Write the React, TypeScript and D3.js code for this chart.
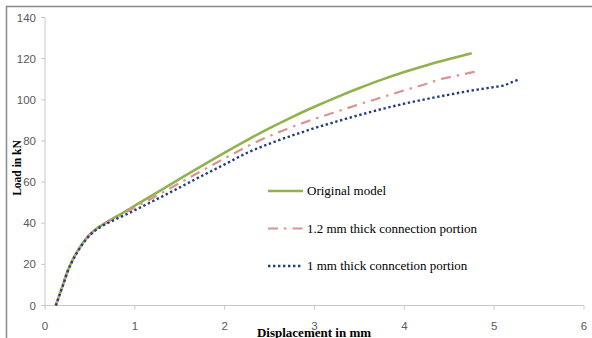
import React from "react";
import * as d3 from "d3";

const xTicks = [0, 1, 2, 3, 4, 5, 6];
const yTicks = [0, 20, 40, 60, 80, 100, 120, 140];

const originalX = [0.12, 0.16, 0.2, 0.25, 0.3, 0.35, 0.4, 0.45, 0.5, 0.55, 0.6, 0.65, 0.7, 0.8, 0.9, 1.0, 1.25, 1.5, 1.75, 2.0, 2.25, 2.5, 2.75, 3.0, 3.25, 3.5, 3.75, 4.0, 4.25, 4.5, 4.75];
const originalY = [0, 5, 10, 16.5, 21.5, 25.5, 29, 32, 34.6, 36.6, 38.2, 39.6, 40.9, 43.4, 45.9, 48.5, 55, 61.5, 68, 74.3, 80.4, 86.2, 91.6, 96.6, 101.3, 105.7, 109.8, 113.5, 116.8, 119.8, 122.6];

const thick12X = [0.12, 0.16, 0.2, 0.25, 0.3, 0.35, 0.4, 0.45, 0.5, 0.55, 0.6, 0.65, 0.7, 0.8, 0.9, 1.0, 1.25, 1.5, 1.75, 2.0, 2.25, 2.5, 2.75, 3.0, 3.25, 3.5, 3.75, 4.0, 4.25, 4.4, 4.6, 4.8];
const thick12Y = [0, 5.2, 10.3, 16.8, 21.8, 25.7, 29.2, 32.1, 34.6, 36.5, 38.1, 39.4, 40.6, 43, 45.3, 47.6, 53.5, 59.6, 65.6, 71.5, 77.3, 82.4, 86.8, 90.7, 94.3, 97.8, 101.2, 104.6, 107.8, 110.0, 111.9, 113.8];

const thick10X = [0.12, 0.16, 0.2, 0.25, 0.3, 0.35, 0.4, 0.45, 0.5, 0.55, 0.6, 0.65, 0.7, 0.8, 0.9, 1.0, 1.25, 1.5, 1.75, 2.0, 2.25, 2.5, 2.75, 3.0, 3.25, 3.5, 3.75, 4.0, 4.25, 4.5, 4.75, 5.0, 5.1, 5.2, 5.27];
const thick10Y = [0, 4.9, 9.8, 16.2, 21.2, 25.2, 28.7, 31.7, 34.2, 36.1, 37.7, 39, 40.1, 42.2, 44.2, 46.3, 51.8, 57.4, 63.1, 68.6, 74.2, 78.7, 82.6, 86.2, 89.5, 92.6, 95.5, 98.1, 100.4, 102.5, 104.5, 106.2, 106.9, 108.6, 109.8];

const seriesNames = ["Original model", "1.2 mm thick connection portion", "1 mm thick conncetion portion"];

type Pt = [number, number];
const zip = (xs: number[], ys: number[]): Pt[] => xs.map((x, i) => [x, ys[i]]);

const series = [
  { name: seriesNames[0], data: zip(originalX, originalY), color: "#8fb34c", width: 2.6, dash: "" },
  { name: seriesNames[1], data: zip(thick12X, thick12Y), color: "#da9391", width: 2.2, dash: "10,6,2.5,6" },
  { name: seriesNames[2], data: zip(thick10X, thick10Y), color: "#21407f", width: 2.4, dash: "2.4,2.6" },
];

export default function App() {
  const W = 592;
  const H = 338;
  const x = d3.scaleLinear().domain([0, 6]).range([45, 584]);
  const y = d3.scaleLinear().domain([0, 140]).range([305.5, 17.5]);
  const line = d3
    .line<Pt>()
    .x((d) => x(d[0]))
    .y((d) => y(d[1]))
    .curve(d3.curveMonotoneX);

  const axisColor = "#c8c8c8";
  const tickText = "#595959";
  const legendY = [191, 228.5, 266];

  return (
    <svg
      width={W}
      height={H}
      style={{ position: "absolute", left: 0, top: 0, background: "#fff" }}
    >
      <rect x={0} y={0} width={W} height={H} fill="#fff" />
      {/* outer frame */}
      <path d={`M6.5,${H + 5} V6.5 H${W + 5}`} fill="none" stroke="#8a8a8a" strokeWidth={1.5} />

      {/* y axis */}
      <line x1={45} x2={45} y1={y(140)} y2={y(0)} stroke={axisColor} strokeWidth={1} />
      {yTicks.map((t) => (
        <g key={"y" + t}>
          <line x1={41} x2={45} y1={y(t)} y2={y(t)} stroke={axisColor} strokeWidth={1} />
          <text
            x={36}
            y={y(t)}
            dy="0.35em"
            textAnchor="end"
            fontFamily="Liberation Sans, Arial, sans-serif"
            fontSize={11.5}
            fill={tickText}
          >
            {t}
          </text>
        </g>
      ))}

      {/* x axis */}
      <line x1={x(0)} x2={x(6)} y1={y(0)} y2={y(0)} stroke={axisColor} strokeWidth={1} />
      {xTicks.map((t) => (
        <g key={"x" + t}>
          <line x1={x(t)} x2={x(t)} y1={y(0)} y2={y(0) + 4} stroke={axisColor} strokeWidth={1} />
          <text
            x={x(t)}
            y={325.5}
            dy="0.35em"
            textAnchor="middle"
            fontFamily="Liberation Sans, Arial, sans-serif"
            fontSize={11.5}
            fill={tickText}
          >
            {t}
          </text>
        </g>
      ))}

      {/* series */}
      {series.map((s) => (
        <path
          key={s.name}
          d={line(s.data) || ""}
          fill="none"
          stroke={s.color}
          strokeWidth={s.width}
          strokeDasharray={s.dash || undefined}
          strokeLinejoin="round"
        />
      ))}

      {/* legend */}
      {series.map((s, i) => (
        <g key={"lg" + i}>
          <line
            x1={268}
            x2={303}
            y1={legendY[i]}
            y2={legendY[i]}
            stroke={s.color}
            strokeWidth={s.width}
            strokeDasharray={s.dash || undefined}
          />
          <text
            x={307}
            y={legendY[i]}
            dy="0.33em"
            fontFamily="Liberation Serif, Times New Roman, serif"
            fontSize={13}
            fill="#000"
          >
            {s.name}
          </text>
        </g>
      ))}

      {/* axis titles */}
      <text
        transform={`translate(20.5,168) rotate(-90)`}
        textAnchor="middle"
        fontFamily="Liberation Serif, Times New Roman, serif"
        fontWeight="bold"
        fontSize={11.5}
        fill="#000"
      >
        Load in kN
      </text>
      <text
        x={314}
        y={336.5}
        textAnchor="middle"
        fontFamily="Liberation Serif, Times New Roman, serif"
        fontWeight="bold"
        fontSize={13}
        fill="#000"
      >
        Displacement in mm
      </text>
    </svg>
  );
}
